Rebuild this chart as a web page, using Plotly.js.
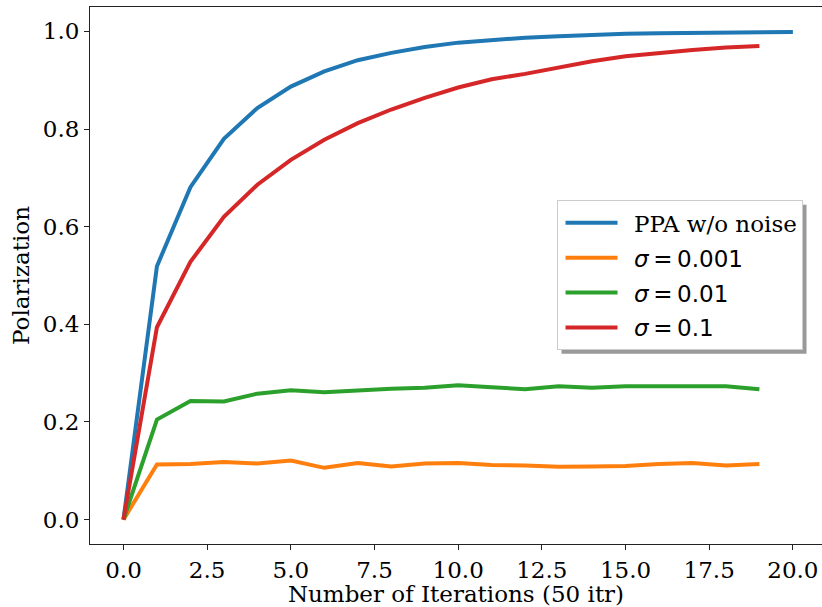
<!DOCTYPE html>
<html>
<head>
<meta charset="utf-8">
<script src="https://cdn.plot.ly/plotly-3.0.1.min.js"></script>
<style>html,body{margin:0;padding:0;background:#fff;}#chart{width:822px;height:607px;}</style>
</head>
<body>
<div id="chart"></div>
<script>
const seriesNames = ["PPA w/o noise", "σ = 0.001", "σ = 0.01", "σ = 0.1"];
const xBlue = [0,1,2,3,4,5,6,7,8,9,10,11,12,13,14,15,16,17,18,19,20];
const xOther = [0,1,2,3,4,5,6,7,8,9,10,11,12,13,14,15,16,17,18,19];
const ppaNoNoise = [0,0.519,0.681,0.780,0.843,0.887,0.918,0.941,0.956,0.968,0.977,0.983,0.987,0.990,0.993,0.995,0.996,0.997,0.998,0.998,0.999];
const sigma0001 = [0,0.113,0.114,0.118,0.115,0.121,0.106,0.116,0.109,0.115,0.116,0.112,0.111,0.108,0.109,0.110,0.114,0.116,0.111,0.114];
const sigma001 = [0,0.205,0.243,0.242,0.258,0.265,0.261,0.265,0.268,0.270,0.275,0.271,0.267,0.273,0.270,0.273,0.273,0.275,0.273,0.267];
const sigma01 = [0,0.394,0.528,0.620,0.686,0.737,0.778,0.812,0.840,0.864,0.885,0.902,0.913,0.927,0.939,0.949,0.956,0.962,0.967,0.970];
const colors = ["#1f77b4", "#ff7f0e", "#2ca02c", "#d62728"];
const xTicks = [0,2.5,5,7.5,10,12.5,15,17.5,20];
const yTicks = [0,0.2,0.4,0.6,0.8,1.0];

function legendName(i) {
  if (i === 0) return seriesNames[0];
  const parts = seriesNames[i].split(" = ");
  return '<span style="font-family:\'DejaVu Sans\'"><i>' + parts[0] + '</i>\u2009=\u2009' + parts[1] + '</span>';
}

const xs = [xBlue, xOther, xOther, xOther];
const ys = [ppaNoNoise, sigma0001, sigma001, sigma01];
const traces = ys.map((y, i) => ({
  x: xs[i], y: y, type: "scatter", mode: "lines",
  name: legendName(i), legendgroup: "g" + i,
  line: {color: colors[i], width: 4}
}));

const serif = "DejaVu Serif, serif";
const FS = 23;
const layout = {
  width: 822, height: 607,
  margin: {l: 90, r: 0, t: 7, b: 63},
  paper_bgcolor: "#fff", plot_bgcolor: "#fff",
  font: {family: serif, size: FS, color: "#000"},
  showlegend: true,
  legend: {
    x: 0.638, y: 0.64, xanchor: "left", yanchor: "top",
    bgcolor: "rgba(255,255,255,1)", bordercolor: "#cccccc", borderwidth: 1,
    font: {family: serif, size: FS},
    itemwidth: 66, traceorder: "grouped", tracegroupgap: 2
  },
  xaxis: {
    range: [-1, 20.87], tickvals: xTicks, ticktext: xTicks.map(v => v.toFixed(1)),
    showgrid: false, zeroline: false, showline: true, linecolor: "#222", linewidth: 1,
    mirror: true, ticks: "outside", ticklen: 5, tickcolor: "#222",
    tickfont: {family: serif, size: FS},
    title: {text: "Number of Iterations (50 itr)", font: {family: serif, size: FS}, standoff: 2}
  },
  yaxis: {
    range: [-0.05, 1.05], tickvals: yTicks, ticktext: yTicks.map(v => v.toFixed(1)),
    showgrid: false, zeroline: false, showline: true, linecolor: "#222", linewidth: 1,
    ticks: "outside", ticklen: 5, tickcolor: "#222",
    tickfont: {family: serif, size: FS},
    title: {text: "Polarization", font: {family: serif, size: FS}, standoff: 6}
  }
};

function fixLegendLines(gd) {
  const bg = gd.querySelector(".legend .bg");
  if (!bg) return;
  const br = bg.getBoundingClientRect();
  gd.querySelectorAll(".legend .legendlines path").forEach(p => {
    const pr = p.getBoundingClientRect();
    const m = /M\s*(-?[\d.]+)[ ,]+(-?[\d.]+)/.exec(p.getAttribute("d") || "");
    if (!m) return;
    const x0 = parseFloat(m[1]);
    const desired = br.left + 8;
    const shift = desired - pr.left;
    p.setAttribute("d", "M" + (x0 + shift) + ",0h52");
  });
}

Plotly.newPlot("chart", traces, layout, {displayModeBar: false, staticPlot: true}).then(gd => {
  const bg = gd.querySelector(".legend .bg");
  if (!bg) return gd;
  const r = bg.getBoundingClientRect();
  const c = gd.getBoundingClientRect();
  const fl = gd._fullLayout;
  const W = fl._size.w, H = fl._size.h, L = fl._size.l, T = fl._size.t;
  const px = (x) => (x - c.left - L) / W;
  const py = (y) => 1 - (y - c.top - T) / H;
  return Plotly.relayout(gd, {shapes: [{
    type: "rect", xref: "paper", yref: "paper", layer: "above",
    x0: px(r.left + 4), x1: px(r.right + 4), y0: py(r.bottom + 4), y1: py(r.top + 4),
    fillcolor: "#999999", line: {width: 0}
  }]});
}).then(() => {
  fixLegendLines(document.getElementById("chart"));
});
</script>
</body>
</html>
